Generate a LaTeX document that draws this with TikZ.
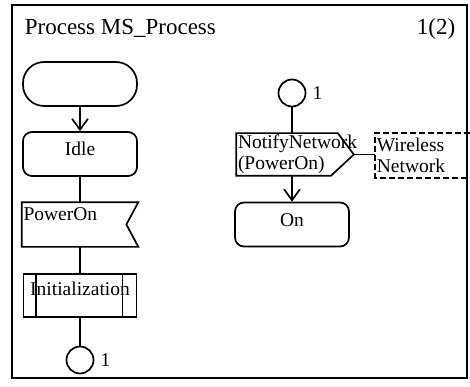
\documentclass[tikz,border=0pt]{standalone}
\usepackage{fontspec}
\setmainfont{Liberation Serif}
\usetikzlibrary{arrows.meta}
\tikzset{
  sdltext/.style = {font=\fontsize{19.5}{21}\selectfont},
  titletext/.style = {font=\fontsize{23}{26}\selectfont, inner sep=0pt},
  startsym/.style = {sdltext, draw, rectangle, rounded corners=21pt,
    minimum width=114pt, minimum height=44pt},
  statesym/.style = {sdltext, draw, rectangle, rounded corners=9pt,
    minimum width=114pt, minimum height=44pt, text height=14pt, text depth=10pt},
  signalsym/.style = {sdltext, rectangle, minimum height=43pt, inner xsep=1pt,
    align=left},% outline drawn after
  procsym/.style = {sdltext, draw, rectangle, minimum width=113pt,
    minimum height=43pt, text height=14pt, text depth=15pt},
  connsym/.style = {draw, circle, minimum size=27pt, inner sep=0pt,
    label={[sdltext, label distance=2pt]right:1}},
  commentsym/.style = {sdltext, rectangle, minimum width=93pt, minimum height=43pt,
    text width=91pt, inner xsep=1pt, inner ysep=0pt, align=left},
}

\begin{document}
\begin{tikzpicture}[x=1pt, y=-1pt, line width=1.7pt,
  >={Straight Barb[length=11pt,width=16pt]}]
\useasboundingbox (0,0) rectangle (470,387);
\draw (12,5) rectangle (467,378);
\node[titletext, anchor=base west] (title) at (24,35) {Process MS\_Process};
\node[titletext, anchor=base east] (page) at (456,35) {1(2)};

% left column
\node[startsym] (start) at (80,84) {};
\node[statesym] (idle) at (80,154) {Idle};
\node[signalsym, minimum width=115pt, text width=113pt,
  text height=14pt, text depth=23pt, inner ysep=2pt] (poweron) at (80,224.5) {PowerOn};
\draw (poweron.north west) -- (poweron.north east) -- ([xshift=-12pt]poweron.east)
  -- (poweron.south east) -- (poweron.south west) -- cycle;
\node[procsym] (init) at (80,295.5) {Initialization};
\draw ([xshift=13pt]init.north west) -- ([xshift=13pt]init.south west);
\draw ([xshift=-15pt]init.north east) -- ([xshift=-15pt]init.south east);
\node[connsym] (conn1) at (80,360) {};

\draw[->] (start) -- (idle);
\draw (idle) -- (poweron);
\draw (poweron) -- (init);
\draw (init) -- (conn1);

% right column
\node[connsym] (conn2) at (292,93) {};
\node[signalsym, minimum width=100pt, text width=98pt, minimum height=41pt,
  inner ysep=0pt] (notify) at (287,154.5) {NotifyNetwork\\(PowerOn)};
\coordinate (notifytip) at ([xshift=16pt]notify.east);
\draw (notify.north west) -- (notify.north east) -- (notifytip)
  -- ([xshift=-7pt]notify.south east) -- (notify.south west) -- cycle;
\node[statesym] (on) at (292,224.5) {On};
\node[commentsym, anchor=west] (comment) at (375,155.5) {Wireless\\Network};
\draw[dash pattern=on 6pt off 3pt] (comment.north east) -- (comment.north west)
  -- (comment.south west) -- (comment.south east);

\draw (conn2) -- (conn2 |- notify.north);
\draw[->] (on |- notify.south) -- (on);
\draw (notifytip) -- (notifytip -| comment.west);
\end{tikzpicture}
\end{document}
